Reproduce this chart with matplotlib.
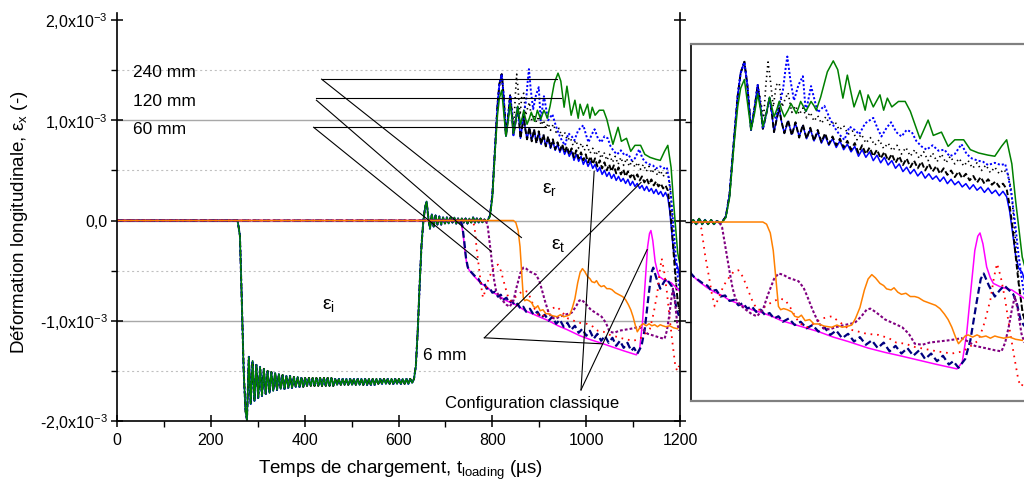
import numpy as np
import matplotlib
matplotlib.use("Agg")
import matplotlib.pyplot as plt

plt.rcParams['font.family'] = ['Liberation Sans', 'DejaVu Sans']
plt.rcParams['mathtext.fontset'] = 'custom'
plt.rcParams['mathtext.rm'] = 'Liberation Sans'
plt.rcParams['mathtext.it'] = 'Liberation Sans:italic'
plt.rcParams['lines.scale_dashes'] = False

# ---------------- data (strain in 1e-3, time in µs) ----------------
# incident wave, common to all input-bar gauges
inc_t_a = [0, 257, 262, 266, 270, 274]
inc_v_a = [0, 0, -0.15, -0.8, -1.5, -1.9]
inc_osc_t0, inc_osc_dt = 277, 4
inc_osc_v = [-1.99, -1.36, -1.83, -1.40, -1.80, -1.44, -1.77, -1.46, -1.75, -1.48,
             -1.73, -1.50, -1.72, -1.51, -1.70, -1.52, -1.69, -1.53, -1.68, -1.54,
             -1.68, -1.55, -1.67, -1.55, -1.67, -1.56, -1.66, -1.56, -1.66, -1.57,
             -1.66, -1.57, -1.65, -1.57, -1.65, -1.57, -1.65, -1.57, -1.65, -1.57,
             -1.65, -1.57, -1.65, -1.57, -1.65, -1.57, -1.65, -1.58, -1.64, -1.58,
             -1.64, -1.58, -1.64, -1.58, -1.64, -1.58, -1.64, -1.58, -1.64, -1.58,
             -1.64, -1.58, -1.64, -1.58, -1.64, -1.58, -1.64, -1.58, -1.64, -1.58,
             -1.63, -1.58, -1.63, -1.58, -1.63, -1.58, -1.63, -1.58, -1.63, -1.58,
             -1.63, -1.58, -1.63, -1.58, -1.63, -1.58, -1.63, -1.58, -1.62, -1.58]
inc_t_b = [637, 641, 645, 649, 653, 657, 660, 663]
inc_v_b = [-1.45, -1.1, -0.65, -0.25, 0.0, 0.14, 0.19, 0.05]
zero_osc_t0, zero_osc_dt = 667, 4
zero_osc_v = [-0.08, 0.06, -0.06, 0.05, -0.04, 0.04, -0.04, 0.03, -0.03, 0.03,
              -0.03, 0.03, -0.02, 0.03, -0.03, 0.02, -0.03, 0.02, -0.02, 0.02,
              -0.03, 0.02, -0.02, 0.03, -0.02, 0.02, -0.02, 0.02, -0.02, 0.01, -0.01]

# reflected part: 6 mm (blue solid)
r6_t_head = [790, 795, 800, 806, 811, 815, 820, 824, 829, 834, 838, 842, 845, 850,
             854, 857, 860, 864, 867, 870, 874]
r6_v_head = [0.0, 0.05, 0.25, 0.75, 1.15, 1.36, 1.46, 1.25, 0.84, 1.05, 1.25, 1.05,
             0.85, 1.0, 1.13, 1.0, 0.82, 0.95, 1.04, 0.92, 0.81]
r6_osc_t0, r6_osc_dt = 879, 5
r6_osc_v = [0.92, 0.80, 0.90, 0.78, 0.88, 0.76, 0.85, 0.74, 0.82, 0.72,
            0.79, 0.70, 0.76, 0.68, 0.74, 0.66, 0.71, 0.64, 0.69, 0.60,
            0.66, 0.59, 0.64, 0.56, 0.61, 0.54, 0.59, 0.52, 0.56, 0.49,
            0.53, 0.46, 0.50, 0.44, 0.48, 0.42, 0.46, 0.40, 0.44, 0.39,
            0.42, 0.37, 0.41, 0.35, 0.39, 0.34, 0.37, 0.32, 0.35, 0.30,
            0.34, 0.29, 0.32, 0.27, 0.31, 0.26, 0.29, 0.24, 0.28, 0.23]
r6_t_tail = [1178, 1182, 1186, 1190, 1195, 1199]
r6_v_tail = [0.10, -0.10, -0.30, -0.42, -0.46, -0.55]

# reflected part: configuration classique (black dashed)
rc_osc_v = [0.93, 0.79, 0.91, 0.77, 0.89, 0.76, 0.86, 0.74, 0.84, 0.73,
            0.81, 0.71, 0.78, 0.70, 0.76, 0.68, 0.74, 0.66, 0.72, 0.63,
            0.70, 0.62, 0.68, 0.60, 0.66, 0.58, 0.64, 0.56, 0.62, 0.54,
            0.60, 0.52, 0.58, 0.50, 0.56, 0.49, 0.55, 0.47, 0.53, 0.46,
            0.51, 0.44, 0.49, 0.43, 0.47, 0.41, 0.46, 0.40, 0.44, 0.38,
            0.42, 0.36, 0.41, 0.35, 0.39, 0.34, 0.37, 0.32, 0.35, 0.30]
rc_t_tail = [1178, 1182, 1186, 1190, 1195, 1199]
rc_v_tail = [0.15, -0.05, -0.30, -0.55, -0.80, -0.92]

# reflected part: 60 mm (black dotted)
r60_t = [790, 795, 800, 806, 811, 815, 820, 824, 829, 834, 838, 842, 846, 849, 852,
         855, 859, 863, 867, 871, 875, 879, 884, 889, 894, 899, 904, 909, 914, 919, 924,
         930, 936, 942, 948, 954, 960, 966, 972, 978, 984, 990, 996, 1002, 1008, 1014,
         1020, 1026, 1032, 1038, 1044, 1050, 1056, 1062, 1068, 1074, 1080, 1086, 1092,
         1098, 1104, 1110, 1116, 1122, 1128, 1134, 1140, 1146, 1152, 1158, 1164, 1170,
         1176, 1180, 1184, 1188, 1192, 1196, 1199]
r60_v = [0, 0.05, 0.25, 0.75, 1.15, 1.36, 1.47, 1.25, 0.86, 1.05, 1.25, 1.10, 0.95,
         1.25, 1.46, 1.30, 1.05, 1.25, 1.27, 1.05, 1.12, 1.18, 1.00, 1.06, 0.98, 1.04,
         0.95, 1.00, 0.92, 0.97, 0.90,
         0.96, 0.88, 0.92, 0.84, 0.88, 0.80, 0.83, 0.75, 0.80, 0.72, 0.77, 0.70, 0.75,
         0.67, 0.72, 0.65, 0.70, 0.62, 0.68, 0.60, 0.66, 0.58, 0.64, 0.56, 0.63, 0.55,
         0.62, 0.54, 0.60, 0.53, 0.58, 0.51, 0.56, 0.49, 0.54, 0.47, 0.52, 0.45, 0.50,
         0.44, 0.48, 0.43, 0.30, 0.0, -0.35, -0.65, -0.85, -0.90]

# reflected part: 120 mm (blue dotted)
r120_t = [790, 795, 800, 806, 811, 815, 820, 824, 829, 834, 838, 842, 845, 850, 854,
          857, 862, 868, 872, 876, 878, 882, 887, 893, 899, 903, 910, 919, 928, 935,
          941, 948, 955, 962, 969, 975, 983, 994, 1000, 1005, 1012, 1018, 1025, 1032,
          1039, 1046, 1052, 1059, 1066, 1074, 1082, 1090, 1097, 1104, 1113, 1120, 1127,
          1135, 1142, 1149, 1158, 1166, 1172, 1176, 1181, 1186, 1190, 1195, 1199]
r120_v = [0.0, 0.05, 0.25, 0.75, 1.15, 1.36, 1.46, 1.25, 0.84, 1.05, 1.25, 1.05, 0.85,
          1.0, 1.13, 1.0, 0.95, 1.10, 1.20, 1.42, 1.51, 1.30, 1.11, 1.25, 1.33, 1.00,
          1.24, 1.00, 1.06, 0.95, 0.87, 0.80, 0.75, 0.87, 0.84, 0.80, 0.90, 0.95, 0.85,
          0.78, 0.86, 0.91, 0.82, 0.78, 0.84, 0.82, 0.74, 0.69, 0.66, 0.70, 0.65, 0.66,
          0.60, 0.62, 0.71, 0.62, 0.58, 0.56, 0.55, 0.52, 0.54, 0.52, 0.53, 0.42, 0.23,
          -0.05, -0.30, -0.55, -0.70]

# reflected part: 240 mm (green)
r240_t = [790, 795, 800, 806, 811, 815, 820, 824, 829, 834, 838, 842, 845, 850, 854,
          857, 860, 864, 867, 870, 874, 879, 883, 887, 890, 893, 896, 900, 903, 907,
          910, 914, 917, 923, 932, 940, 946, 953, 959, 968, 976, 983, 987, 994, 1003,
          1008, 1013, 1019, 1028, 1037, 1044, 1057, 1068, 1075, 1086, 1095, 1104, 1116,
          1125, 1136, 1149, 1158, 1167, 1174, 1181, 1186, 1190, 1195, 1199]
r240_v = [0.0, 0.04, 0.22, 0.70, 1.05, 1.22, 1.30, 1.10, 0.84, 1.00, 1.17, 1.02, 0.87,
          1.00, 1.14, 1.05, 0.96, 1.03, 1.10, 1.03, 0.96, 1.02, 1.08, 1.03, 0.99, 1.04,
          1.10, 1.05, 1.01, 1.06, 1.10, 1.06, 1.02, 1.14, 1.37, 1.47, 1.39, 1.13, 1.34,
          1.05, 1.20, 1.02, 1.16, 1.05, 1.16, 1.02, 1.13, 1.05, 1.10, 1.10, 1.01, 0.76,
          0.93, 0.79, 0.82, 0.69, 0.75, 0.75, 0.66, 0.63, 0.61, 0.60, 0.69, 0.75, 0.53,
          0.20, -0.03, -0.32, -0.42]

# transmitted: 6 mm (magenta)
t6_t = [0, 730, 734, 738, 742, 746, 750, 755, 760, 770, 780, 790, 799, 810, 820, 830,
        845, 857, 870, 885, 900, 920, 940, 960, 987, 1010, 1030, 1055, 1080, 1107, 1114,
        1120, 1126, 1131, 1135, 1138, 1142, 1147, 1152, 1156, 1165, 1175, 1181, 1190, 1198]
t6_v = [0, 0, -0.02, -0.15, -0.32, -0.45, -0.49, -0.52, -0.55, -0.60, -0.64, -0.67,
        -0.71, -0.74, -0.77, -0.80, -0.83, -0.86, -0.90, -0.93, -0.96, -1.00, -1.05,
        -1.09, -1.15, -1.19, -1.22, -1.26, -1.30, -1.34, -1.28, -1.02, -0.60, -0.26,
        -0.13, -0.10, -0.20, -0.41, -0.51, -0.56, -0.59, -0.61, -0.62, -0.66, -0.70]

# transmitted: configuration classique (navy dashed)
tc_t = [0, 732, 736, 740, 744, 748, 752, 758, 764, 770, 776, 782, 788, 794, 800, 806,
        812, 818, 824, 830, 836, 842, 848, 854, 860, 866, 872, 880, 888, 896, 904, 912,
        920, 928, 936, 944, 952, 960, 968, 976, 984, 992, 1000, 1008, 1016, 1024, 1032,
        1040, 1048, 1056, 1064, 1072, 1080, 1088, 1096, 1102, 1109, 1118, 1125, 1133,
        1139, 1143, 1150, 1158, 1165, 1171, 1177, 1183, 1188, 1193, 1198]
tc_v = [0, 0, -0.05, -0.20, -0.38, -0.47, -0.50, -0.53, -0.56, -0.58, -0.63, -0.62,
        -0.68, -0.67, -0.72, -0.71, -0.76, -0.74, -0.79, -0.77, -0.82, -0.80, -0.85,
        -0.83, -0.88, -0.86, -0.91, -0.88, -0.94, -0.91, -0.97, -0.94, -1.00, -0.96,
        -1.03, -0.99, -1.06, -1.02, -1.09, -1.05, -1.12, -1.08, -1.15, -1.10, -1.18,
        -1.13, -1.20, -1.15, -1.22, -1.17, -1.25, -1.20, -1.27, -1.22, -1.30, -1.27,
        -1.33, -1.25, -1.08, -0.75, -0.52, -0.47, -0.58, -0.68, -0.62, -0.58, -0.62,
        -0.66, -0.75, -0.90, -0.95]

# transmitted: 60 mm (red dotted)
t60_t = [0, 758, 762, 767, 772, 776, 780, 785, 792, 800, 806, 812, 818, 825, 832, 838,
         843, 850, 860, 868, 875, 882, 890, 898, 906, 915, 925, 938, 950, 962, 974, 985,
         1001, 1015, 1025, 1037, 1050, 1065, 1080, 1100, 1115, 1128, 1136, 1144, 1152,
         1157, 1161, 1166, 1172, 1178, 1185, 1190, 1194, 1198]
t60_v = [0, 0, -0.06, -0.30, -0.49, -0.65, -0.77, -0.70, -0.58, -0.50, -0.45, -0.44,
         -0.50, -0.62, -0.74, -0.80, -0.80, -0.76, -0.72, -0.70, -0.71, -0.78, -0.88,
         -0.94, -0.96, -0.92, -0.88, -0.86, -0.92, -0.98, -1.00, -1.02, -1.03, -1.06,
         -1.10, -1.11, -1.14, -1.16, -1.18, -1.20, -1.18, -1.12, -1.08, -0.92, -0.71,
         -0.50, -0.38, -0.50, -0.71, -0.98, -1.26, -1.45, -1.50, -1.45]

# transmitted: 120 mm (purple dotted)
t120_t = [0, 786, 790, 795, 800, 804, 808, 815, 822, 830, 837, 845, 852, 860, 866, 872,
          880, 893, 900, 905, 912, 920, 927, 935, 943, 955, 969, 978, 985, 990, 997,
          1010, 1020, 1033, 1042, 1050, 1060, 1070, 1082, 1095, 1105, 1113, 1122, 1131,
          1145, 1158, 1167, 1172, 1177, 1181, 1185, 1189, 1194, 1198]
t120_v = [0, 0, -0.05, -0.25, -0.45, -0.60, -0.70, -0.76, -0.80, -0.84, -0.86, -0.80,
          -0.66, -0.52, -0.47, -0.48, -0.51, -0.54, -0.60, -0.68, -0.80, -0.92, -0.97,
          -0.98, -0.96, -0.94, -0.92, -0.86, -0.80, -0.79, -0.82, -0.89, -0.92, -0.96,
          -1.02, -1.11, -1.12, -1.10, -1.09, -1.08, -1.07, -1.06, -1.09, -1.13, -1.15,
          -1.17, -1.18, -1.10, -0.95, -0.80, -0.68, -0.80, -1.02, -1.10]

# transmitted: 240 mm (orange)
t240_t = [0, 845, 850, 855, 859, 863, 866, 869, 873, 878, 884, 888, 893, 897, 902, 908,
          914, 920, 928, 938, 945, 952, 960, 965, 970, 976, 982, 987, 992, 997, 1003,
          1008, 1012, 1018, 1022, 1027, 1032, 1038, 1044, 1050, 1055, 1062, 1070, 1078,
          1084, 1090, 1095, 1100, 1105, 1109, 1113, 1118, 1122, 1128, 1134, 1140, 1146,
          1152, 1158, 1163, 1170, 1178, 1186, 1195]
t240_v = [0, 0, -0.02, -0.10, -0.26, -0.55, -0.77, -0.80, -0.79, -0.80, -0.82, -0.86,
          -0.87, -0.85, -0.90, -0.89, -0.93, -0.93, -0.95, -0.96, -0.94, -0.96, -0.95,
          -0.94, -0.88, -0.78, -0.62, -0.52, -0.48, -0.51, -0.56, -0.58, -0.61, -0.62,
          -0.60, -0.64, -0.66, -0.65, -0.68, -0.68, -0.69, -0.72, -0.74, -0.76, -0.79,
          -0.84, -0.89, -0.96, -1.05, -1.11, -1.08, -1.04, -1.03, -1.05, -1.03, -1.05,
          -1.04, -1.06, -1.04, -1.05, -1.06, -1.05, -1.07, -1.08]

ytick_vals = [-2, -1, 0, 1, 2]
ytick_labels = ['-2,0x10$^{-3}$', '-1,0x10$^{-3}$', '0,0', '1,0x10$^{-3}$', '2,0x10$^{-3}$']
xtick_vals = [0, 200, 400, 600, 800, 1000, 1200]


# ---------------- build series ----------------
def grid(t0, dt, vals):
    return list(t0 + dt * np.arange(len(vals)))


inc_t = inc_t_a + grid(inc_osc_t0, inc_osc_dt, inc_osc_v) + inc_t_b + \
    grid(zero_osc_t0, zero_osc_dt, zero_osc_v)
inc_v = inc_v_a + inc_osc_v + inc_v_b + zero_osc_v

r6_t = r6_t_head + grid(r6_osc_t0, r6_osc_dt, r6_osc_v) + r6_t_tail
r6_v = r6_v_head + r6_osc_v + r6_v_tail
rc_t = r6_t_head + grid(r6_osc_t0, r6_osc_dt, rc_osc_v) + rc_t_tail
rc_v = r6_v_head + rc_osc_v + rc_v_tail

styles_in = [
    (r6_t, r6_v, dict(color='#0000ff', lw=1.1)),
    (rc_t, rc_v, dict(color='black', lw=1.4, dashes=(4, 2))),
    (r60_t, r60_v, dict(color='black', lw=1.2, dashes=(1, 2.5))),
    (r120_t, r120_v, dict(color='#0000ff', lw=1.4, dashes=(1.5, 1.5))),
    (r240_t, r240_v, dict(color='#008000', lw=1.1)),
]
styles_out = [
    (t6_t, t6_v, dict(color='#ff00ff', lw=1.1)),
    (tc_t, tc_v, dict(color='#000080', lw=1.6, dashes=(5, 2.5))),
    (t60_t, t60_v, dict(color='#ff0000', lw=1.3, dashes=(1.2, 3.5))),
    (t120_t, t120_v, dict(color='#800080', lw=1.5, dashes=(2, 1.5))),
    (t240_t, t240_v, dict(color='#ff8000', lw=1.1)),
]

W, H = 1024, 488
fig = plt.figure(figsize=(W / 100, H / 100), dpi=100)

# ---------------- main axes ----------------
ax = fig.add_axes([117 / W, 67 / H, 563 / W, 408 / H])
ax.set_xlim(0, 1200)
ax.set_ylim(-2.0, 2.07)

for y in [-1, 0, 1]:
    ax.axhline(y, color='#a8a8a8', lw=1.0, zorder=0)
for y in [-1.5, -0.5, 0.5, 1.5]:
    ax.axhline(y, color='#c0c0c0', lw=0.8, dashes=(1.5, 2), zorder=0)


def draw(a, with_incident):
    for rt, rv, st in styles_in:
        if with_incident:
            tt = inc_t + rt
            vv = inc_v + rv
        else:
            tt = inc_t[-8:] + rt
            vv = inc_v[-8:] + rv
        a.plot(tt, vv, solid_joinstyle='round', **st)
    for tt, vv, st in styles_out:
        a.plot(tt, vv, **st)


draw(ax, True)

ax.spines['top'].set_visible(False)
for s in ['left', 'bottom', 'right']:
    ax.spines[s].set_linewidth(1.2)
ax.set_yticks(ytick_vals)
ax.set_yticklabels(ytick_labels)
ax.set_yticks([-1.5, -0.5, 0.5, 1.5], minor=True)
ax.set_xticks(xtick_vals)
ax.set_xticks([100, 300, 500, 700, 900, 1100], minor=True)
ax.tick_params(which='major', direction='inout', length=9, width=1.1, labelsize=11.5,
               pad=2, right=True)
ax.tick_params(which='minor', direction='out', length=4, width=1.0, right=True)
ax.tick_params(axis='x', which='major', pad=4)

fig.text(20 / W, 1 - 222 / H, 'Déformation longitudinale, ε$_{\\mathregular{x}}$ (-)',
         rotation=90, ha='center', va='center', fontsize=13.5)
fig.text(400 / W, 1 - 470 / H, 'Temps de chargement, t$_{\\mathregular{loading}}$ (µs)',
         ha='center', va='center', fontsize=13.5)

# annotations (data coordinates of the main axes)
ann_lines = [
    ([436, 938], [1.41, 1.41]), ([436, 862], [1.41, -0.17]),
    ([425, 947], [1.22, 1.22]), ([425, 798], [1.20, -0.31]),
    ([419, 915], [0.93, 0.93]), ([419, 768], [0.93, -0.39]),
    ([783, 1034], [-1.17, -1.23]), ([783, 1117], [-1.17, 0.38]),
    ([989, 1017], [-1.69, 0.49]), ([989, 1130], [-1.69, -0.29]),
]
for xs, ys in ann_lines:
    ax.plot(xs, ys, color='black', lw=0.8, zorder=5)

ax.text(34, 1.48, '240 mm', fontsize=12.5, va='center', ha='left')
ax.text(34, 1.19, '120 mm', fontsize=12.5, va='center', ha='left')
ax.text(34, 0.91, '60 mm', fontsize=12.5, va='center', ha='left')
ax.text(653, -1.35, '6 mm', fontsize=12.5, va='center', ha='left')
ax.text(885, -1.83, 'Configuration classique', fontsize=12, va='center', ha='center')
ax.text(906, 0.31, 'ε$_{\\mathregular{r}}$', fontsize=14, va='center', ha='left')
ax.text(925, -0.25, 'ε$_{\\mathregular{t}}$', fontsize=14, va='center', ha='left')
ax.text(436, -0.85, 'ε$_{\\mathregular{i}}$', fontsize=14, va='center', ha='left')

# ---------------- inset ----------------
ax2 = fig.add_axes([691 / W, 87 / H, 333 / W, 357 / H])
ax2.set_xlim(748, 748 + 333 / 0.741)
ax2.set_ylim(-1.633, 1.624)
draw(ax2, True)
ax2.spines['right'].set_visible(False)
ax2.spines['left'].set_color('black')
ax2.spines['left'].set_linewidth(1.2)
for s in ['top', 'bottom']:
    ax2.spines[s].set_color('#808080')
    ax2.spines[s].set_linewidth(1.6)
ax2.set_xticks([])
ax2.set_yticks([-0.912, 0, 0.912])
ax2.set_yticklabels([])
ax2.tick_params(axis='y', direction='out', length=4, width=1.0)

fig.savefig('out.png', dpi=100)
